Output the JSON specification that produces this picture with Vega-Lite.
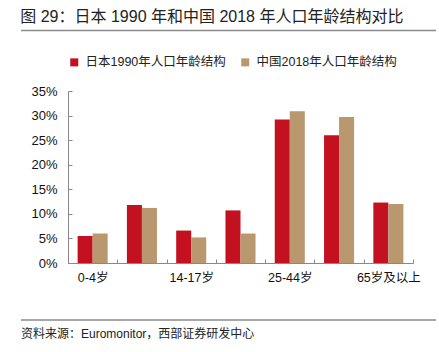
{
  "$schema": "https://vega.github.io/schema/vega-lite/v6.json",
  "background": "white",
  "padding": {"left": 20, "top": 8, "right": 4, "bottom": 4},
  "title": {
    "text": "图 29：日本 1990 年和中国 2018 年人口年龄结构对比",
    "anchor": "start",
    "font": "Liberation Sans, Noto Sans CJK SC",
    "fontSize": 16,
    "fontWeight": "normal",
    "color": "#222",
    "offset": 5
  },
  "width": 345,
  "height": 172,
  "config": {
    "view": {"stroke": null},
    "font": "Liberation Sans, Noto Sans CJK SC"
  },
  "datasets": {
    "rules": [{"a": 0, "b": 1, "level": 1}, {"a": 0, "b": 1, "level": 0}],
    "source": [{"a": 0, "level": -0.0484, "t": "资料来源：Euromonitor，西部证券研发中心"}],
    "pop": [
      {"age": "0-4岁", "series": "日本1990年人口年龄结构", "value": 5.5},
      {"age": "0-4岁", "series": "中国2018年人口年龄结构", "value": 6.0},
      {"age": "5-13岁", "series": "日本1990年人口年龄结构", "value": 11.8},
      {"age": "5-13岁", "series": "中国2018年人口年龄结构", "value": 11.2},
      {"age": "14-17岁", "series": "日本1990年人口年龄结构", "value": 6.6},
      {"age": "14-17岁", "series": "中国2018年人口年龄结构", "value": 5.2},
      {"age": "18-24岁", "series": "日本1990年人口年龄结构", "value": 10.7},
      {"age": "18-24岁", "series": "中国2018年人口年龄结构", "value": 6.0},
      {"age": "25-44岁", "series": "日本1990年人口年龄结构", "value": 29.2},
      {"age": "25-44岁", "series": "中国2018年人口年龄结构", "value": 30.9},
      {"age": "45-64岁", "series": "日本1990年人口年龄结构", "value": 26.0},
      {"age": "45-64岁", "series": "中国2018年人口年龄结构", "value": 29.7},
      {"age": "65岁及以上", "series": "日本1990年人口年龄结构", "value": 12.3},
      {"age": "65岁及以上", "series": "中国2018年人口年龄结构", "value": 12.0}
    ]
  },
  "resolve": {
    "scale": {"x": "independent", "y": "independent"},
    "axis": {"x": "independent", "y": "independent"}
  },
  "layer": [
    {
      "data": {"name": "pop"},
      "mark": {"type": "bar"},
      "encoding": {
        "x": {
          "field": "age",
          "type": "nominal",
          "sort": null,
          "scale": {"paddingInner": 0, "paddingOuter": 0},
          "axis": {
            "title": null,
            "labelAngle": 0,
            "labelFontSize": 12.5,
            "labelColor": "#111",
            "labelPadding": 12,
            "tickSize": -4,
            "tickBand": "extent",
            "domainColor": "#888",
            "tickColor": "#888",
            "labelExpr": "indexof(['0-4岁','14-17岁','25-44岁','65岁及以上'], datum.value) >= 0 ? datum.value : ''"
          }
        },
        "xOffset": {
          "field": "series",
          "type": "nominal",
          "scale": {"domain": ["日本1990年人口年龄结构", "中国2018年人口年龄结构"], "paddingInner": 0, "paddingOuter": 0.64}
        },
        "y": {
          "field": "value",
          "type": "quantitative",
          "scale": {"domain": [0, 35]},
          "axis": {
            "title": null,
            "values": [0, 5, 10, 15, 20, 25, 30, 35],
            "labelExpr": "datum.value + '%'",
            "labelFontSize": 13,
            "labelColor": "#111",
            "labelPadding": 15,
            "tickSize": -4,
            "grid": false,
            "domainColor": "#888",
            "tickColor": "#888",
            "minExtent": 47
          }
        },
        "color": {
          "field": "series",
          "type": "nominal",
          "scale": {"domain": ["日本1990年人口年龄结构", "中国2018年人口年龄结构"], "range": ["#C3111F", "#B9976F"]},
          "legend": {
            "title": null,
            "orient": "top",
            "direction": "horizontal",
            "symbolType": "square",
            "symbolSize": 64,
            "symbolStrokeWidth": 0,
            "labelFontSize": 12.5,
            "labelColor": "#222",
            "labelOffset": 5,
            "columnPadding": 13,
            "offset": 22,
            "padding": 0
          }
        }
      }
    },
    {
      "layer": [
        {
          "data": {"name": "rules"},
          "mark": {"type": "rule", "color": "#8a8a8a", "strokeWidth": 1.5},
          "encoding": {
            "x": {"field": "a", "type": "quantitative", "scale": {"domain": [0, 1], "range": [-47, 368], "nice": false, "zero": false}, "axis": null},
            "x2": {"field": "b"},
            "y": {"field": "level", "type": "quantitative", "scale": {"domain": [0, 1], "range": [229, -60.5], "nice": false, "zero": false}, "axis": null}
          }
        },
        {
          "data": {"name": "source"},
          "mark": {"type": "text", "align": "left", "baseline": "middle", "fontSize": 12, "color": "#222"},
          "encoding": {
            "x": {"field": "a", "type": "quantitative", "scale": {"domain": [0, 1], "range": [-47, 368], "nice": false, "zero": false}, "axis": null},
            "y": {"field": "level", "type": "quantitative", "scale": {"domain": [0, 1], "range": [229, -60.5], "nice": false, "zero": false}, "axis": null},
            "text": {"field": "t"}
          }
        }
      ]
    }
  ]
}
